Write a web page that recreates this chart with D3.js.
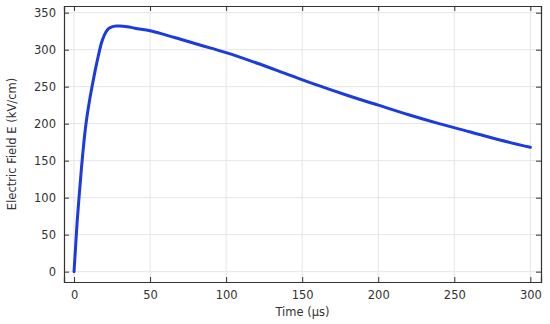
<!DOCTYPE html>
<html>
<head>
<meta charset="utf-8">
<script src="https://cdn.jsdelivr.net/npm/d3@7"></script>
<style>
    body { margin: 0; background: #fff; }
    text { font-family: "DejaVu Sans", sans-serif; fill: #333; }
</style>
</head>
<body>
<div id="chart"></div>
<script>
// time (µs) and electric field (kV/cm)
let time = [0, 1, 2, 3, 4, 5, 6, 7, 8, 10, 12, 14, 16, 18, 20, 22, 24, 26, 28, 30, 35, 40, 50, 60, 70, 80, 90, 100, 120, 140, 160, 180, 200, 220, 240, 260, 280, 300];
let field = [0, 33, 66, 93, 118, 143, 165, 185, 202, 229, 252, 273, 292, 309, 320, 327, 330, 331.5, 332, 332, 331, 329, 325.5, 320, 314, 308, 302, 296, 282, 267, 252, 238, 225, 212, 200, 189, 178, 168];
let xTicks = [0, 50, 100, 150, 200, 250, 300];
let yTicks = [0, 50, 100, 150, 200, 250, 300, 350];

let width = 550, height = 324;
let margin = {left: 64, top: 6, right: 9, bottom: 42};

let svg = d3.select('#chart').append('svg')
    .attr('width', width)
    .attr('height', height);

let x = d3.scaleLinear().domain([-6.6, 307]).range([margin.left, width - margin.right]);
let y = d3.scaleLinear().domain([-14, 359]).range([height - margin.bottom, margin.top]);

// grid
svg.append('g').selectAll('line')
    .data(xTicks).enter().append('line')
    .attr('x1', d => x(d)).attr('x2', d => x(d))
    .attr('y1', y.range()[1]).attr('y2', y.range()[0])
    .attr('stroke', '#e6e6e6').attr('stroke-width', 1);
svg.append('g').selectAll('line')
    .data(yTicks).enter().append('line')
    .attr('y1', d => y(d)).attr('y2', d => y(d))
    .attr('x1', x.range()[0]).attr('x2', x.range()[1])
    .attr('stroke', '#e6e6e6').attr('stroke-width', 1);

// curve
let line = d3.line()
    .x((d, i) => x(time[i]))
    .y(d => y(d))
    .curve(d3.curveMonotoneX);
svg.append('path')
    .datum(field)
    .attr('d', line)
    .attr('fill', 'none')
    .attr('stroke', '#1a3be0')
    .attr('stroke-width', 3)
    .attr('stroke-linejoin', 'round')
    .attr('stroke-linecap', 'round');

// axes, ticks pointing inward on all four sides
let tickLen = 5;
let axBottom = svg.append('g').attr('transform', 'translate(0,' + y.range()[0] + ')')
    .call(d3.axisBottom(x).tickValues(xTicks).tickSize(-tickLen).tickPadding(9));
let axTop = svg.append('g').attr('transform', 'translate(0,' + y.range()[1] + ')')
    .call(d3.axisTop(x).tickValues(xTicks).tickSize(-tickLen).tickFormat(''));
let axLeft = svg.append('g').attr('transform', 'translate(' + x.range()[0] + ',0)')
    .call(d3.axisLeft(y).tickValues(yTicks).tickSize(-tickLen).tickPadding(8));
let axRight = svg.append('g').attr('transform', 'translate(' + x.range()[1] + ',0)')
    .call(d3.axisRight(y).tickValues(yTicks).tickSize(-tickLen).tickFormat(''));

[axBottom, axTop, axLeft, axRight].forEach(function (g) {
    g.selectAll('.domain').attr('stroke', '#333').attr('stroke-width', 1.2);
    g.selectAll('.tick line').attr('stroke', '#333');
    g.selectAll('.tick text').attr('font-size', 11.5).attr('fill', '#333')
        .style('font-family', '"DejaVu Sans", sans-serif');
});

// axis labels
svg.append('text')
    .attr('x', (x.range()[0] + x.range()[1]) / 2)
    .attr('y', 316)
    .attr('text-anchor', 'middle')
    .attr('font-size', 11.5)
    .text('Time (µs)');

svg.append('text')
    .attr('transform', 'translate(16,' + ((y.range()[0] + y.range()[1]) / 2) + ') rotate(-90)')
    .attr('text-anchor', 'middle')
    .attr('font-size', 11.5)
    .text('Electric Field E (kV/cm)');
</script>
</body>
</html>
